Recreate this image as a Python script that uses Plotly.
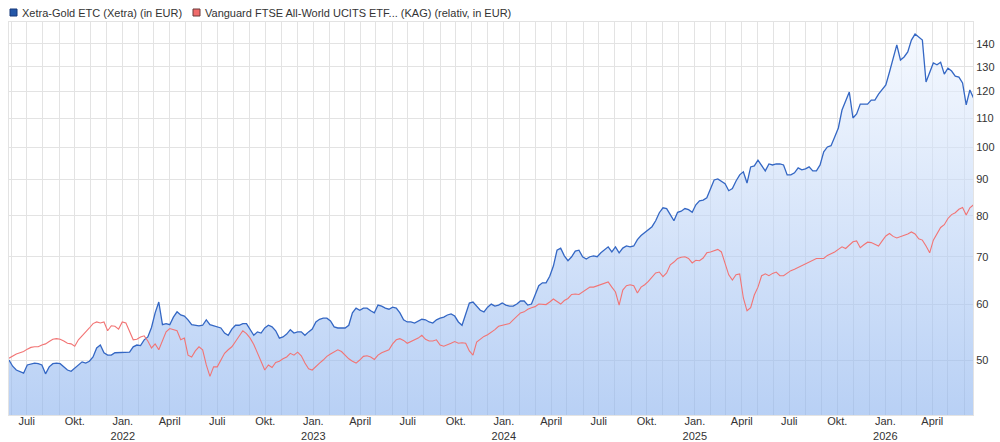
import math
import pandas as pd
import plotly.graph_objects as go

# ---- data (weekly closes) ----
start_date = "2021-05-28"

gold = [
    50.0, 49.0, 48.4, 48.1, 47.9, 49.2, 49.4, 49.5, 49.4, 49.2,
    47.8, 48.9, 49.4, 49.5, 49.4, 48.9, 48.4, 48.2, 48.7, 49.2,
    49.7, 49.5, 49.8, 50.5, 52.0, 52.5, 51.2, 50.8, 50.8, 51.2,
    51.2, 51.3, 51.3, 51.3, 52.2, 52.5, 52.4, 53.4, 53.9, 55.6,
    58.3, 60.4, 56.1, 56.3, 56.1, 57.5, 58.5, 57.9, 57.7, 57.0,
    56.1, 56.0, 55.9, 56.0, 57.0, 56.1, 55.9, 55.7, 55.5, 54.6,
    54.2, 55.3, 56.0, 56.0, 56.3, 56.3, 55.2, 54.2, 54.8, 54.6,
    55.5, 56.0, 55.7, 55.0, 53.7, 53.9, 54.4, 55.2, 54.6, 54.8,
    54.8, 54.2, 54.8, 55.3, 56.6, 57.1, 57.3, 57.3, 56.8, 55.7,
    55.5, 55.5, 55.5, 56.0, 58.3, 59.2, 58.8, 59.2, 59.2, 58.7,
    58.3, 59.8, 59.6, 59.2, 59.0, 59.4, 59.2, 58.3, 57.0, 56.6,
    56.6, 56.4, 56.8, 57.1, 57.0, 56.6, 56.4, 57.0, 57.3, 57.5,
    57.9, 58.1, 57.7, 56.6, 56.0, 57.9, 60.2, 60.4, 59.6, 58.8,
    58.5, 59.4, 60.0, 59.6, 59.8, 60.2, 59.8, 59.6, 59.6, 60.0,
    60.6, 60.6, 59.8, 60.0, 61.8, 63.7, 64.3, 64.3, 65.7, 67.9,
    71.5, 72.0, 70.2, 69.1, 70.0, 71.3, 71.5, 70.0, 69.5, 70.0,
    70.2, 70.0, 70.9, 71.5, 72.3, 71.1, 72.3, 70.9, 72.0, 72.5,
    72.3, 72.5, 74.0, 75.0, 75.7, 76.4, 77.2, 78.7, 80.8, 82.1,
    81.9, 80.3, 78.7, 80.9, 81.2, 81.9, 81.6, 80.9, 82.9, 84.0,
    84.2, 84.8, 87.4, 89.9, 90.2, 89.6, 88.8, 86.8, 87.4, 89.6,
    91.4, 92.3, 89.0, 93.8, 94.1, 95.9, 94.1, 92.6, 94.7, 94.4,
    94.7, 94.7, 94.4, 91.4, 91.4, 92.0, 93.5, 92.9, 93.2, 93.8,
    92.6, 92.6, 94.4, 98.5, 100.1, 100.5, 103.4, 106.5, 112.9, 116.6,
    119.7, 110.0, 111.5, 115.1, 115.1, 115.1, 116.6, 116.6, 118.9, 120.5,
    122.5, 127.8, 133.7, 139.6, 132.9, 134.2, 136.4, 141.8, 144.6, 143.2,
    141.8, 123.7, 127.4, 131.6, 130.8, 131.9, 126.9, 129.4, 128.2, 126.1,
    125.7, 123.3, 114.8, 120.5, 117.4,
]

vanguard = [
    50.3, 50.7, 51.0, 51.2, 51.4, 51.8, 52.1, 52.2, 52.2, 52.5,
    52.7, 53.1, 53.5, 53.6, 53.5, 53.2, 52.8, 52.7, 52.3, 53.4,
    54.2, 54.8, 55.5, 56.3, 56.6, 56.4, 56.6, 55.0, 55.9, 55.8,
    55.3, 56.6, 56.4, 55.0, 53.4, 53.5, 53.9, 54.1, 53.2, 52.0,
    52.7, 51.7, 53.4, 54.8, 55.4, 55.2, 55.0, 53.4, 53.7, 50.8,
    50.5, 51.5, 52.2, 51.7, 49.2, 47.4, 48.9, 48.9, 50.0, 51.1,
    51.7, 52.2, 53.1, 54.1, 55.0, 54.5, 53.7, 52.6, 51.2, 49.7,
    48.4, 49.2, 48.8, 49.6, 49.8, 50.2, 50.5, 51.1, 50.8, 51.3,
    50.7, 49.5, 48.6, 48.4, 49.0, 49.5, 50.0, 50.6, 51.0, 51.4,
    51.7, 51.4, 50.8, 50.2, 49.8, 49.5, 50.0, 50.6, 50.7, 50.5,
    50.1, 50.8, 51.2, 51.4, 51.7, 52.7, 53.4, 53.6, 53.3, 52.8,
    53.1, 53.3, 53.7, 54.2, 53.5, 53.2, 53.2, 53.4, 52.5, 52.3,
    52.5, 52.8, 53.1, 52.8, 52.9, 52.8, 51.5, 50.8, 53.0, 53.5,
    54.0, 54.3, 54.7, 55.2, 55.8, 56.0, 56.1, 56.3, 57.0, 57.6,
    58.3, 58.5, 59.0, 59.3, 59.5, 60.0, 60.0, 59.9, 60.4, 61.0,
    60.5, 60.0, 60.7, 61.1, 61.9, 62.0, 61.9, 62.4, 62.8, 63.4,
    63.4, 63.7, 63.9, 64.2, 64.5, 63.4, 62.4, 59.8, 62.8, 63.7,
    63.9, 63.7, 62.2, 63.4, 63.9, 64.6, 65.6, 66.4, 66.6, 65.6,
    66.4, 68.2, 68.8, 69.6, 69.9, 70.0, 69.6, 68.6, 69.2, 69.1,
    69.7, 70.9, 71.1, 71.4, 71.7, 71.1, 68.4, 66.0, 64.9, 66.0,
    66.2, 61.2, 58.7, 59.3, 61.8, 63.4, 65.8, 66.2, 65.8, 66.3,
    66.6, 65.8, 65.8, 66.4, 66.9, 67.2, 67.6, 68.0, 68.5, 68.9,
    69.3, 69.6, 69.6, 69.6, 70.3, 70.7, 71.1, 71.7, 72.3, 71.9,
    72.6, 73.5, 73.7, 72.1, 72.8, 73.4, 73.3, 72.8, 72.5, 73.7,
    74.9, 75.5, 74.8, 74.4, 74.7, 75.0, 75.4, 75.9, 75.4, 74.2,
    73.9, 72.5, 70.9, 73.9, 75.6, 77.0, 77.7, 79.3, 80.3, 80.8,
    81.7, 82.2, 80.2, 82.1, 82.9,
]

gold_name = "Xetra-Gold ETC (Xetra) (in EUR)"
vanguard_name = "Vanguard FTSE All-World UCITS ETF... (KAG) (relativ, in EUR)"

y_ticks = [50, 60, 70, 80, 90, 100, 110, 120, 130, 140]
month_names = {1: "Jan.", 4: "April", 7: "Juli", 10: "Okt."}

dates_gold = pd.date_range(start_date, periods=len(gold), freq="7D")
dates_vg = pd.date_range(start_date, periods=len(vanguard), freq="7D")

month_starts = pd.date_range("2021-06-01", "2026-06-01", freq="MS")
tick_text = []
for d in month_starts:
    if d.month == 1:
        tick_text.append(f"Jan.<br>{d.year}")
    else:
        tick_text.append(month_names.get(d.month, ""))

y_lo, y_hi = 41.8, 150.4

fig = go.Figure()
fig.add_trace(go.Scatter(
    x=dates_gold, y=gold, mode="lines", name=gold_name,
    line=dict(color="#3467c4", width=1.3),
    fill="tozeroy",
    fillgradient=dict(
        type="vertical",
        colorscale=[[0, "rgba(137,177,238,0.6)"], [1, "rgba(242,247,255,0.6)"]],
        start=y_lo, stop=y_hi,
    ),
    showlegend=False,
))
fig.add_trace(go.Scatter(
    x=dates_vg, y=vanguard, mode="lines", name=vanguard_name,
    line=dict(color="#f27474", width=1.1),
    showlegend=False,
))

grid = "#e3e3e3"
fig.update_layout(
    width=1000, height=442,
    margin=dict(l=9, r=27, t=22, b=27, pad=0),
    paper_bgcolor="white", plot_bgcolor="white",
    font=dict(family="Liberation Sans, Arial, sans-serif", size=11, color="#333"),
    xaxis=dict(
        type="date", range=["2021-05-28", "2026-06-18"],
        tickmode="array", tickvals=month_starts, ticktext=tick_text,
        showgrid=True, gridcolor=grid, gridwidth=1,
        ticks="", zeroline=False, showline=True, mirror=True,
        linecolor=grid, linewidth=1, automargin=False,
        ticklabelstandoff=-4,
        tickfont=dict(size=11, color="#333"),
    ),
    yaxis=dict(
        type="log", side="right",
        range=[math.log10(y_lo), math.log10(y_hi)],
        tickmode="array", tickvals=y_ticks, ticktext=[str(v) for v in y_ticks],
        showgrid=True, gridcolor=grid, gridwidth=1,
        ticks="", zeroline=False, showline=True, mirror=True,
        linecolor=grid, linewidth=1, automargin=False,
        tickfont=dict(size=11, color="#333"),
    ),
    showlegend=False,
)

# legend drawn as small squares + text above the plot
def px_x(p):
    return (p - 9) / 964.0

def px_y(p):
    return (415 - p) / 393.0

legend_items = [
    (10, "#2457a8", "#17397a", gold_name),
    (193, "#f06a6a", "#6b3a3a", vanguard_name),
]
for x0, fillc, linec, label in legend_items:
    fig.add_shape(type="rect", xref="paper", yref="paper",
                  x0=px_x(x0), x1=px_x(x0 + 7), y0=px_y(16), y1=px_y(9),
                  fillcolor=fillc, line=dict(color=linec, width=1))
    fig.add_annotation(xref="paper", yref="paper", x=px_x(x0 + 10), y=px_y(12.5),
                       xanchor="left", yanchor="middle", showarrow=False,
                       text=label, font=dict(size=11, color="#333"))

fig.write_html("out.html", config={"displayModeBar": False})
